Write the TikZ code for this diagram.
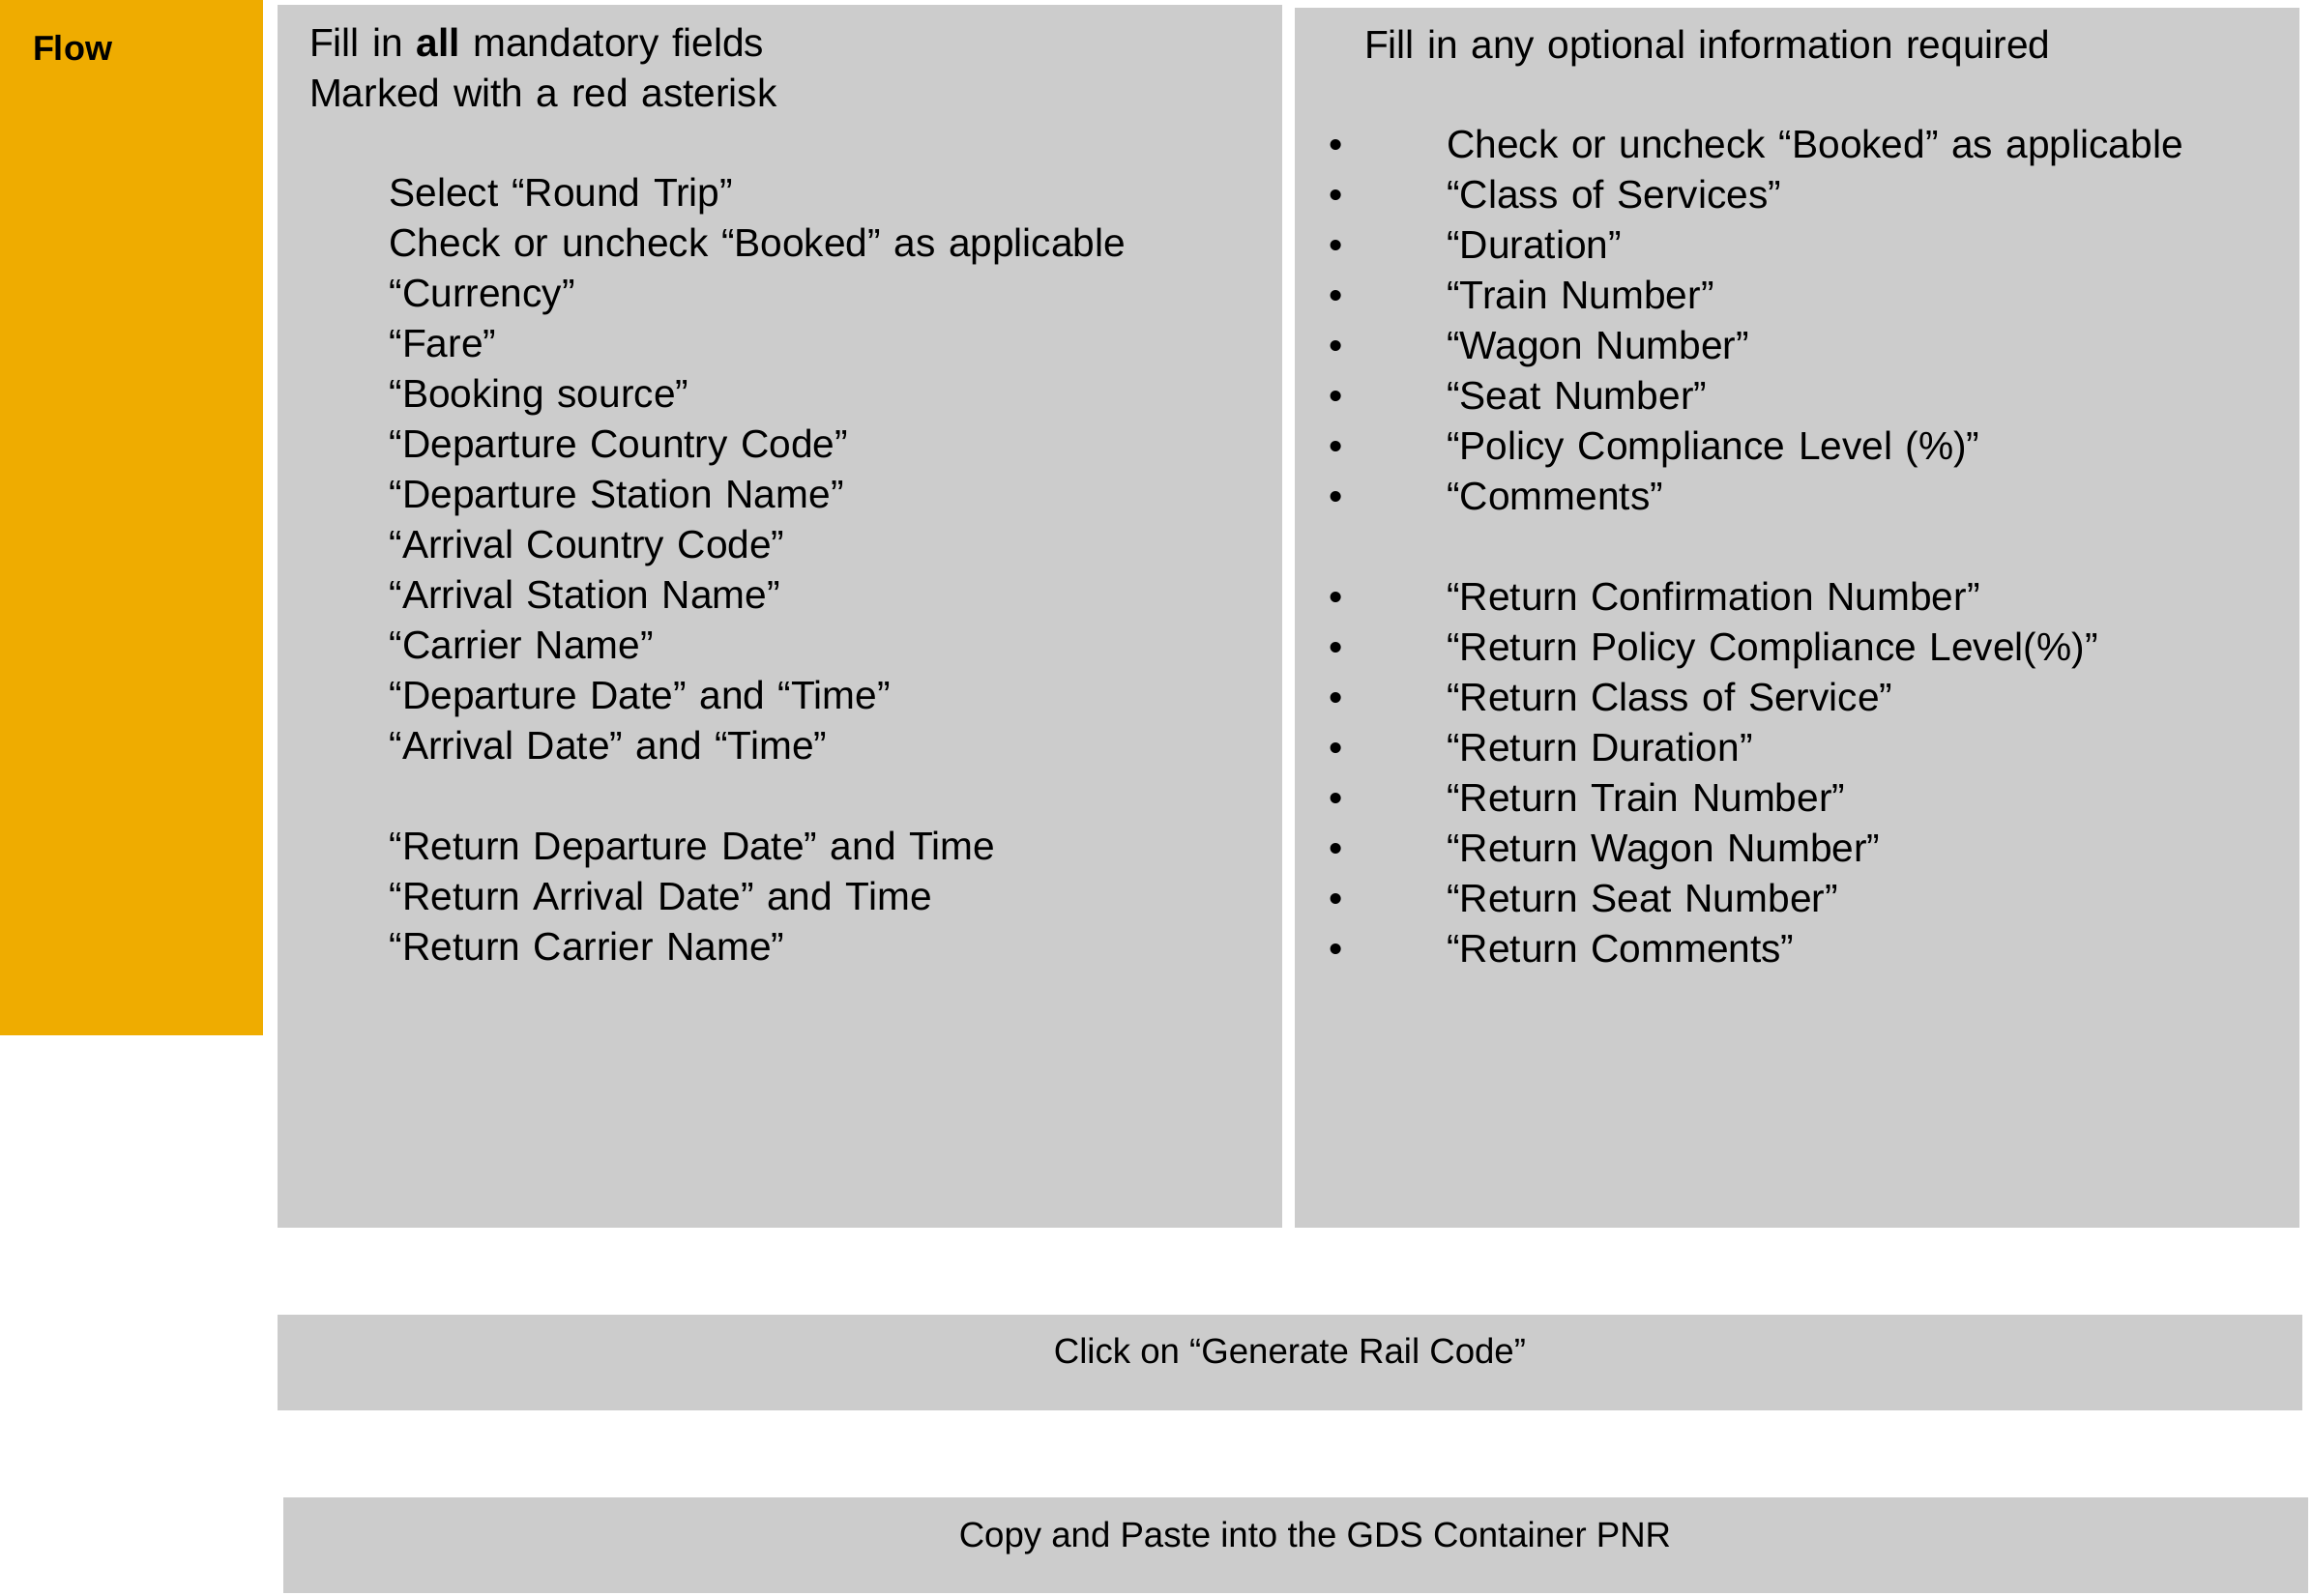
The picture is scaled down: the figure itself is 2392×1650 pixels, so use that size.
\documentclass[tikz,border=0pt]{standalone}
\usepackage{fontspec}
\setmainfont{Liberation Sans}
\definecolor{floworange}{HTML}{EFAC00}
\definecolor{boxgrey}{HTML}{CCCCCC}
\newcommand{\bitem}[1]{\makebox[61pt][l]{\textbullet}#1}
\begin{document}
\begin{tikzpicture}[
            x=0.5pt, y=-0.5pt,
            panel/.style={fill=boxgrey},
            every node/.style={inner sep=0pt, outer sep=0pt},
            body/.style={font=\fontsize{20.33}{26}\selectfont, align=left, text width=560pt, anchor=base west},
            small/.style={font=\fontsize{18.3}{22}\selectfont, anchor=base}
          ]
          \useasboundingbox (0,0) rectangle (2392,1650);

          % Side bar
          \fill[floworange] (0,0) rectangle (271.5,1071);
          \node[small, anchor=base west, font=\fontsize{18}{22}\selectfont\bfseries] (flow) at (34,62) {Flow};

          % Top panels
          \fill[panel] (287,5) rectangle (1326,1270);
          \fill[panel] (1339,8) rectangle (2378,1270);

          % Mandatory fields
          \node[body] (mandhead) at (320,58) {Fill in \textbf{all} mandatory fields\\Marked with a red asterisk};
          \node[body] (mandlist) at (402.6,213) {%
            Select “Round Trip”\\
            Check or uncheck “Booked” as applicable\\
            “Currency”\\
            “Fare”\\
            “Booking source”\\
            “Departure Country Code”\\
            “Departure Station Name”\\
            “Arrival Country Code”\\
            “Arrival Station Name”\\
            “Carrier Name”\\
            “Departure Date” and “Time”\\
            “Arrival Date” and “Time”\\[26pt]
            “Return Departure Date” and Time\\
            “Return Arrival Date” and Time\\
            “Return Carrier Name”};

          % Optional fields
          \node[body] (opthead) at (1411,60) {Fill in any optional information required};
          \node[body] (optlist) at (1374.3,163) {%
            \bitem{Check or uncheck “Booked” as applicable}\\
            \bitem{“Class of Services”}\\
            \bitem{“Duration”}\\
            \bitem{“Train Number”}\\
            \bitem{“Wagon Number”}\\
            \bitem{“Seat Number”}\\
            \bitem{“Policy Compliance Level (\%)”}\\
            \bitem{“Comments”}\\[26pt]
            \bitem{“Return Confirmation Number”}\\
            \bitem{“Return Policy Compliance Level(\%)”}\\
            \bitem{“Return Class of Service”}\\
            \bitem{“Return Duration”}\\
            \bitem{“Return Train Number”}\\
            \bitem{“Return Wagon Number”}\\
            \bitem{“Return Seat Number”}\\
            \bitem{“Return Comments”}};

          % Bottom steps
          \fill[panel] (287,1360) rectangle (2381,1459);
          \node[small] (generate) at (1334,1410) {Click on “Generate Rail Code”};
          \fill[panel] (293,1549) rectangle (2387,1648);
          \node[small] (paste) at (1360,1600) {Copy and Paste into the GDS Container PNR};

        \end{tikzpicture}
\end{document}
